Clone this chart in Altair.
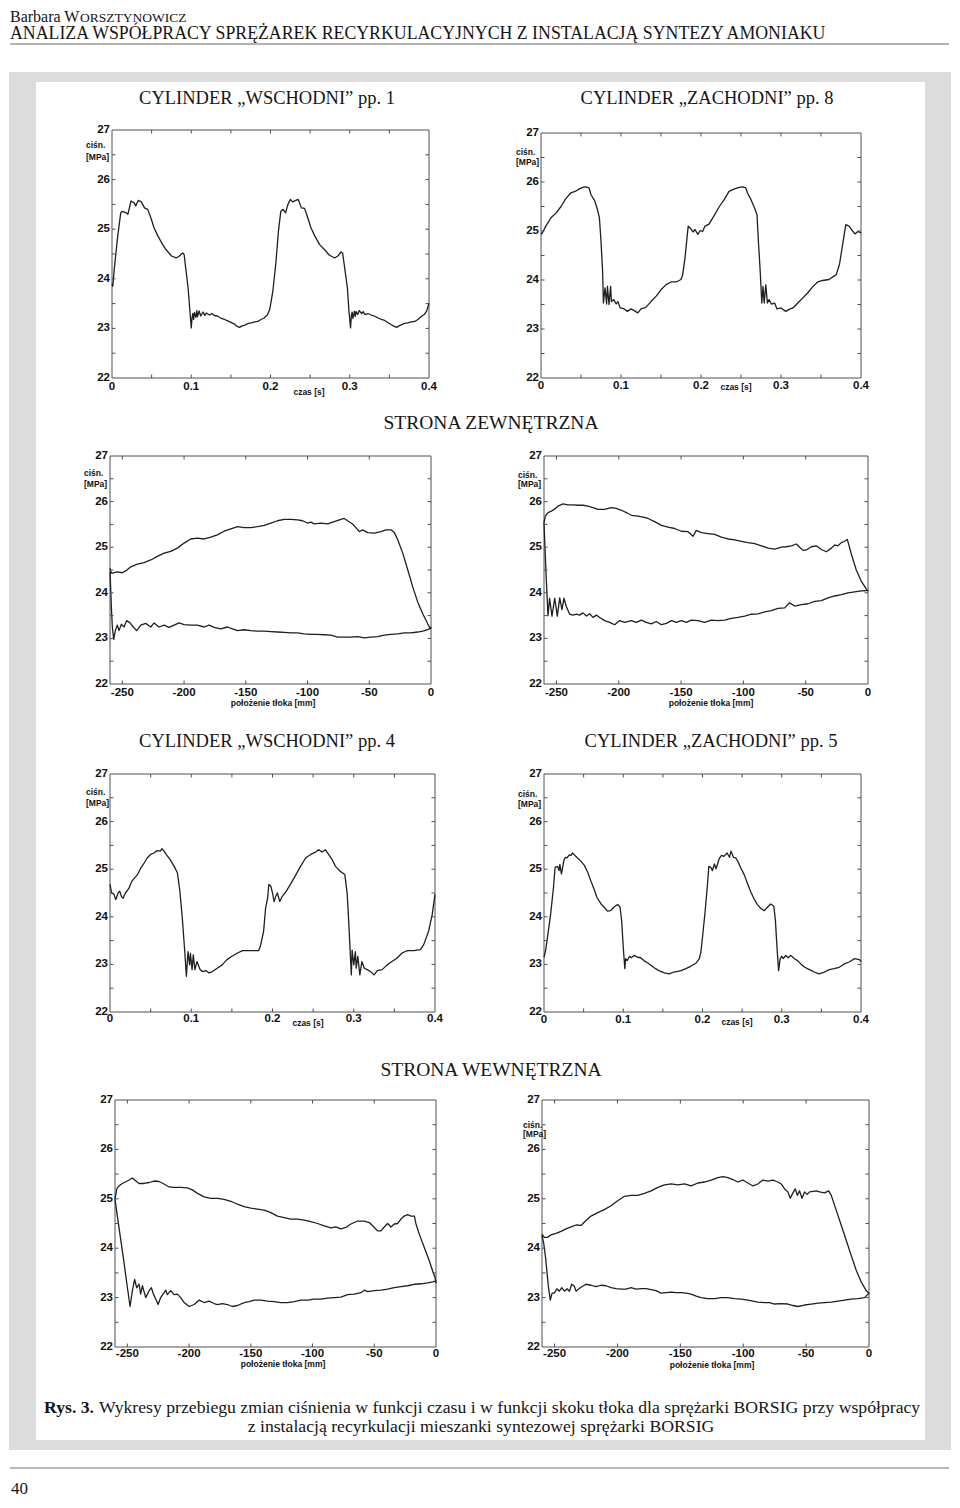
import altair as alt
import pandas as pd

SANS = "Liberation Sans"
SERIF = "Liberation Serif"
INK = "#1f1f1f"
FRAME = "#505050"
GREY = "#dcdcdc"

# ---------------- text content ----------------
AUTHOR = ["Barbara W", "ORSZTYNOWICZ"]
RUNNING_TITLE = "ANALIZA WSPÓŁPRACY SPRĘŻAREK RECYRKULACYJNYCH Z INSTALACJĄ SYNTEZY AMONIAKU"
PANEL_TITLES = ["CYLINDER \u201eWSCHODNI\u201d pp. 1", "CYLINDER \u201eZACHODNI\u201d pp. 8",
                "CYLINDER \u201eWSCHODNI\u201d pp. 4", "CYLINDER \u201eZACHODNI\u201d pp. 5"]
SIDE_TITLES = ["STRONA ZEWNĘTRZNA", "STRONA WEWNĘTRZNA"]
CAPTION_BOLD = "Rys. 3."
CAPTION_1 = ("Wykresy przebiegu zmian ciśnienia w funkcji czasu i w funkcji skoku tłoka "
             "dla sprężarki BORSIG przy współpracy")
CAPTION_2 = "z instalacją recyrkulacji mieszanki syntezowej sprężarki BORSIG"
PAGE_NO = "40"
Y_TITLE = ["ciśn.", "[MPa]"]
X_TITLES = {"time": "czas [s]", "pos": "położenie tłoka [mm]"}

# ---------------- axis ticks and labels ----------------
TIME_LABELS = [0, 0.1, 0.2, 0.3, 0.4]
TIME_LABEL_TEXT = ["0", "0.1", "0.2", "0.3", "0.4"]
TIME_TICKS = [0.05, 0.1, 0.15, 0.2, 0.25, 0.3, 0.35]
POS_LABELS = [-250, -200, -150, -100, -50, 0]
POS_LABEL_TEXT = ["-250", "-200", "-150", "-100", "-50", "0"]
POS_TICKS = [-250, -200, -150, -100, -50]
P_LABELS = [22, 23, 24, 25, 26, 27]
P_LABEL_TEXT = ["22", "23", "24", "25", "26", "27"]
P_TICKS = [22.5, 23, 23.5, 24, 24.5, 25, 25.5, 26, 26.5]

# ---------------- data: pressure vs time (t [s], p [MPa]) ----------------
WSCH_PP1 = [(0.000, 23.90), (0.001, 23.85), (0.003, 24.22), (0.007, 24.83), (0.011, 25.33), (0.013, 25.36),
            (0.018, 25.33), (0.020, 25.30), (0.022, 25.43), (0.024, 25.57), (0.028, 25.53), (0.030, 25.47),
            (0.033, 25.58), (0.037, 25.55), (0.041, 25.43), (0.045, 25.40), (0.049, 25.23), (0.053, 25.03),
            (0.058, 24.86), (0.064, 24.69), (0.068, 24.59), (0.075, 24.46), (0.081, 24.42), (0.085, 24.46),
            (0.089, 24.52), (0.091, 24.49), (0.093, 24.22), (0.096, 23.82), (0.099, 23.21), (0.100, 23.01),
            (0.101, 23.21), (0.102, 23.30), (0.103, 23.18), (0.104, 23.32), (0.106, 23.22), (0.107, 23.36),
            (0.108, 23.24), (0.110, 23.35), (0.112, 23.25), (0.115, 23.33), (0.117, 23.26), (0.119, 23.31),
            (0.123, 23.27), (0.126, 23.30), (0.129, 23.26), (0.133, 23.25), (0.138, 23.20), (0.142, 23.18),
            (0.146, 23.15), (0.150, 23.12), (0.155, 23.08), (0.158, 23.04), (0.161, 23.02), (0.164, 23.05),
            (0.167, 23.06), (0.172, 23.10), (0.176, 23.11), (0.180, 23.13), (0.184, 23.14), (0.188, 23.18),
            (0.192, 23.21), (0.196, 23.27), (0.199, 23.38), (0.203, 23.75), (0.207, 24.36), (0.210, 24.96),
            (0.213, 25.36), (0.216, 25.40), (0.219, 25.33), (0.222, 25.50), (0.225, 25.60), (0.228, 25.55),
            (0.232, 25.58), (0.235, 25.60), (0.239, 25.43), (0.243, 25.42), (0.247, 25.23), (0.251, 25.03),
            (0.256, 24.86), (0.262, 24.69), (0.268, 24.59), (0.274, 24.48), (0.281, 24.42), (0.285, 24.46),
            (0.289, 24.54), (0.291, 24.52), (0.293, 24.29), (0.297, 23.82), (0.299, 23.35), (0.301, 23.01),
            (0.302, 23.25), (0.303, 23.33), (0.304, 23.20), (0.306, 23.35), (0.307, 23.24), (0.308, 23.34),
            (0.310, 23.28), (0.312, 23.36), (0.315, 23.30), (0.317, 23.34), (0.319, 23.28), (0.323, 23.30),
            (0.327, 23.27), (0.331, 23.25), (0.336, 23.21), (0.340, 23.18), (0.344, 23.16), (0.348, 23.12),
            (0.352, 23.08), (0.356, 23.04), (0.359, 23.02), (0.362, 23.05), (0.365, 23.07), (0.369, 23.10),
            (0.373, 23.11), (0.378, 23.13), (0.382, 23.14), (0.386, 23.18), (0.390, 23.24), (0.394, 23.28),
            (0.397, 23.35), (0.400, 23.51)]

ZACH_PP8 = [(0.000, 24.96), (0.001, 24.94), (0.006, 25.10), (0.0125, 25.27), (0.019, 25.37), (0.025, 25.50),
            (0.031, 25.66), (0.0375, 25.78), (0.044, 25.82), (0.048, 25.86), (0.052, 25.89), (0.056, 25.90),
            (0.060, 25.88), (0.0625, 25.74), (0.067, 25.62), (0.070, 25.47), (0.073, 25.27), (0.075, 24.79),
            (0.077, 24.18), (0.078, 23.53), (0.080, 23.84), (0.082, 23.51), (0.083, 23.87), (0.085, 23.50),
            (0.087, 23.87), (0.088, 23.56), (0.091, 23.60), (0.094, 23.51), (0.096, 23.56), (0.099, 23.43),
            (0.104, 23.41), (0.108, 23.36), (0.1125, 23.41), (0.117, 23.37), (0.121, 23.33), (0.125, 23.41),
            (0.131, 23.44), (0.1375, 23.56), (0.144, 23.67), (0.150, 23.80), (0.156, 23.90), (0.1625, 23.96),
            (0.169, 23.96), (0.175, 24.01), (0.177, 24.10), (0.180, 24.45), (0.1825, 24.86), (0.184, 25.10),
            (0.187, 25.05), (0.190, 24.98), (0.1925, 25.03), (0.196, 24.93), (0.199, 25.01), (0.202, 24.99),
            (0.205, 25.10), (0.210, 25.14), (0.217, 25.33), (0.223, 25.50), (0.229, 25.64), (0.235, 25.81),
            (0.242, 25.86), (0.248, 25.89), (0.252, 25.90), (0.256, 25.88), (0.258, 25.78), (0.2625, 25.64),
            (0.267, 25.47), (0.270, 25.33), (0.272, 24.72), (0.274, 24.18), (0.276, 23.53), (0.2775, 23.87),
            (0.279, 23.53), (0.281, 23.90), (0.283, 23.53), (0.285, 23.60), (0.288, 23.51), (0.292, 23.53),
            (0.295, 23.41), (0.300, 23.43), (0.306, 23.36), (0.310, 23.40), (0.315, 23.43), (0.321, 23.53),
            (0.327, 23.63), (0.333, 23.73), (0.340, 23.87), (0.346, 23.96), (0.352, 23.99), (0.360, 24.01),
            (0.369, 24.11), (0.373, 24.31), (0.377, 24.72), (0.381, 25.13), (0.385, 25.10), (0.390, 24.99),
            (0.3925, 24.94), (0.396, 24.99), (0.400, 24.96)]

WSCH_PP4 = [(0.000, 24.68), (0.002, 24.50), (0.005, 24.47), (0.007, 24.36), (0.010, 24.50), (0.012, 24.54),
            (0.014, 24.43), (0.016, 24.39), (0.019, 24.50), (0.023, 24.59), (0.027, 24.75), (0.034, 24.89),
            (0.038, 25.03), (0.042, 25.13), (0.046, 25.24), (0.050, 25.31), (0.054, 25.34), (0.058, 25.39),
            (0.062, 25.38), (0.064, 25.43), (0.066, 25.39), (0.070, 25.29), (0.074, 25.20), (0.079, 25.06),
            (0.083, 24.92), (0.086, 24.54), (0.089, 23.97), (0.092, 23.27), (0.094, 22.75), (0.096, 23.27),
            (0.098, 22.99), (0.099, 23.23), (0.101, 22.89), (0.1025, 23.20), (0.1045, 22.89), (0.107, 23.06),
            (0.111, 22.89), (0.114, 22.85), (0.118, 22.87), (0.122, 22.82), (0.126, 22.85), (0.132, 22.92),
            (0.138, 22.99), (0.144, 23.10), (0.150, 23.17), (0.157, 23.24), (0.163, 23.29), (0.169, 23.29),
            (0.175, 23.29), (0.183, 23.29), (0.185, 23.38), (0.189, 23.69), (0.1915, 24.18), (0.194, 24.39),
            (0.1955, 24.68), (0.198, 24.64), (0.200, 24.50), (0.202, 24.32), (0.204, 24.43), (0.206, 24.50),
            (0.209, 24.32), (0.212, 24.43), (0.214, 24.47), (0.217, 24.54), (0.222, 24.68), (0.228, 24.86),
            (0.2345, 25.06), (0.241, 25.24), (0.247, 25.31), (0.253, 25.36), (0.257, 25.41), (0.261, 25.36),
            (0.265, 25.41), (0.269, 25.31), (0.2735, 25.20), (0.2775, 25.06), (0.283, 24.96), (0.289, 24.89),
            (0.292, 24.47), (0.294, 23.83), (0.297, 22.78), (0.298, 23.30), (0.300, 22.99), (0.302, 23.27),
            (0.303, 22.92), (0.305, 23.17), (0.3075, 22.78), (0.310, 23.06), (0.313, 22.92), (0.3165, 22.89),
            (0.3205, 22.85), (0.325, 22.78), (0.329, 22.87), (0.335, 22.89), (0.341, 22.99), (0.347, 23.06),
            (0.353, 23.13), (0.3595, 23.24), (0.366, 23.29), (0.374, 23.29), (0.382, 23.31), (0.386, 23.41),
            (0.392, 23.69), (0.3965, 24.04), (0.400, 24.47)]

ZACH_PP5 = [(0.000, 23.15), (0.002, 23.29), (0.005, 23.64), (0.0084, 24.06), (0.012, 24.62), (0.014, 25.04),
            (0.017, 25.06), (0.019, 24.97), (0.020, 25.10), (0.022, 24.90), (0.024, 25.08), (0.025, 25.18),
            (0.027, 25.25), (0.029, 25.24), (0.032, 25.30), (0.034, 25.29), (0.036, 25.34), (0.039, 25.29),
            (0.042, 25.24), (0.046, 25.18), (0.051, 25.08), (0.055, 24.94), (0.059, 24.76), (0.063, 24.59),
            (0.067, 24.40), (0.072, 24.27), (0.076, 24.20), (0.080, 24.12), (0.084, 24.13), (0.088, 24.20),
            (0.093, 24.26), (0.096, 24.20), (0.098, 23.92), (0.100, 23.36), (0.102, 22.91), (0.103, 23.12),
            (0.105, 23.08), (0.108, 23.17), (0.110, 23.14), (0.114, 23.19), (0.118, 23.15), (0.122, 23.14),
            (0.126, 23.08), (0.131, 23.03), (0.135, 22.98), (0.139, 22.93), (0.145, 22.87), (0.152, 22.82),
            (0.158, 22.80), (0.164, 22.84), (0.173, 22.87), (0.179, 22.91), (0.185, 22.96), (0.192, 23.03),
            (0.196, 23.12), (0.198, 23.26), (0.200, 23.57), (0.203, 24.06), (0.206, 24.62), (0.208, 25.06),
            (0.2105, 25.04), (0.2125, 24.97), (0.215, 25.11), (0.217, 25.01), (0.219, 25.11), (0.221, 25.22),
            (0.224, 25.29), (0.227, 25.27), (0.231, 25.34), (0.234, 25.25), (0.236, 25.38), (0.239, 25.25),
            (0.242, 25.24), (0.245, 25.15), (0.248, 25.04), (0.253, 24.87), (0.257, 24.69), (0.261, 24.52),
            (0.265, 24.38), (0.269, 24.26), (0.274, 24.17), (0.278, 24.13), (0.282, 24.20), (0.286, 24.27),
            (0.290, 24.22), (0.292, 23.92), (0.294, 23.36), (0.296, 22.87), (0.298, 23.12), (0.300, 23.17),
            (0.302, 23.12), (0.305, 23.19), (0.308, 23.14), (0.3115, 23.19), (0.316, 23.12), (0.320, 23.08),
            (0.324, 23.01), (0.329, 22.94), (0.335, 22.89), (0.341, 22.84), (0.347, 22.80), (0.354, 22.84),
            (0.360, 22.89), (0.366, 22.91), (0.3725, 22.94), (0.379, 23.01), (0.385, 23.05), (0.3915, 23.12),
            (0.398, 23.10), (0.400, 23.06)]

# ---------------- data: pressure vs piston position (x [mm], p [MPa]), loop order ----------------
ZEW_WSCH = [(-260, 24.54), (-258.9, 24.43), (-256.8, 24.44), (-254.1, 24.46), (-250, 24.44), (-247.3, 24.48),
            (-243.2, 24.57), (-237.8, 24.63), (-232.4, 24.66), (-227, 24.72), (-221.6, 24.80), (-216.2, 24.87),
            (-210.8, 24.91), (-205.4, 24.98), (-200, 25.09), (-194.6, 25.18), (-189.2, 25.20), (-183.8, 25.18),
            (-178.4, 25.22), (-173, 25.27), (-167.6, 25.35), (-162.1, 25.40), (-156.7, 25.45), (-151.3, 25.43),
            (-145.9, 25.43), (-140.5, 25.45), (-135.1, 25.48), (-129.7, 25.53), (-124.3, 25.58), (-118.9, 25.61),
            (-113.5, 25.61), (-108.1, 25.60), (-104, 25.58), (-100, 25.53), (-97.3, 25.55), (-94.6, 25.51),
            (-89.2, 25.53), (-83.8, 25.51), (-78.4, 25.56), (-73, 25.61), (-70.3, 25.63), (-67.6, 25.58),
            (-63.5, 25.51), (-60.8, 25.43), (-58.1, 25.34), (-55.4, 25.38), (-51.3, 25.32), (-45.9, 25.31),
            (-40.5, 25.34), (-36.5, 25.38), (-32.4, 25.38), (-29.7, 25.32), (-27, 25.17), (-22.9, 24.87),
            (-18.9, 24.51), (-14.8, 24.13), (-10.8, 23.80), (-6.7, 23.54), (-2.7, 23.32), (-0.5, 23.21),
            (0, 23.24), (-2.7, 23.19), (-6.7, 23.16), (-10.8, 23.14), (-16.2, 23.12), (-21.6, 23.12),
            (-27, 23.10), (-32.4, 23.09), (-37.8, 23.07), (-43.2, 23.04), (-48.6, 23.03), (-54, 23.01),
            (-59.4, 23.04), (-64.8, 23.03), (-70.3, 23.03), (-75.7, 23.03), (-81.1, 23.07), (-86.5, 23.08),
            (-91.9, 23.09), (-97.3, 23.09), (-102.7, 23.10), (-108.1, 23.12), (-113.5, 23.12), (-118.9, 23.13),
            (-124.3, 23.14), (-129.7, 23.15), (-135.1, 23.16), (-140.5, 23.16), (-145.9, 23.17), (-151.3, 23.19),
            (-156.7, 23.17), (-160.8, 23.21), (-164.9, 23.25), (-170.3, 23.21), (-175.7, 23.24), (-179.7, 23.29),
            (-183.8, 23.25), (-189.2, 23.29), (-194.6, 23.29), (-200, 23.30), (-204, 23.34), (-208.1, 23.29),
            (-212.2, 23.24), (-216.2, 23.29), (-220.3, 23.25), (-224.3, 23.34), (-227, 23.25), (-231.1, 23.33),
            (-235.1, 23.29), (-238.4, 23.17), (-241.1, 23.25), (-243.8, 23.34), (-246.5, 23.39), (-248.6, 23.25),
            (-250.8, 23.31), (-252.7, 23.17), (-254.1, 23.29), (-255.7, 23.17), (-257, 22.98), (-258.1, 23.25),
            (-258.9, 23.69), (-259.5, 24.14), (-260, 24.47)]

ZEW_ZACH = [(-260, 25.54), (-258.9, 25.68), (-256.8, 25.76), (-254.1, 25.79), (-251.4, 25.84), (-248.8, 25.90),
            (-244.8, 25.95), (-240.7, 25.93), (-236.7, 25.93), (-232.7, 25.92), (-228.7, 25.92), (-224.7, 25.90),
            (-220.7, 25.87), (-216.7, 25.83), (-211.3, 25.83), (-206, 25.87), (-202, 25.85), (-197.9, 25.81),
            (-193.9, 25.76), (-189.9, 25.70), (-184.6, 25.68), (-180.6, 25.66), (-176.5, 25.63), (-171.2, 25.56),
            (-165.8, 25.48), (-160.5, 25.44), (-155.1, 25.41), (-149.8, 25.35), (-144.4, 25.34), (-140.4, 25.24),
            (-137.8, 25.37), (-133.7, 25.32), (-128.4, 25.30), (-123, 25.28), (-117.7, 25.22), (-112.3, 25.18),
            (-107, 25.16), (-101.6, 25.13), (-96.3, 25.10), (-90.9, 25.08), (-85.6, 25.03), (-80.2, 24.98),
            (-74.9, 24.96), (-69.5, 25.00), (-65.5, 25.01), (-61.5, 25.03), (-57.5, 25.07), (-54.8, 25.00),
            (-52.2, 24.93), (-49.5, 24.94), (-45.5, 25.01), (-41.5, 25.03), (-37.4, 24.95), (-33.4, 24.90),
            (-29.4, 24.98), (-26.7, 25.05), (-24.1, 25.03), (-21.4, 25.10), (-18.7, 25.13), (-16.6, 25.17),
            (-13.4, 24.85), (-9.4, 24.50), (-5.3, 24.25), (-0.5, 24.05),
            (0, 24.05), (-5.3, 24.04), (-10.7, 24.02), (-16, 24.00), (-21.4, 23.96), (-26.7, 23.93),
            (-32.1, 23.89), (-37.4, 23.83), (-42.8, 23.81), (-48.1, 23.76), (-53.5, 23.74), (-58.8, 23.71),
            (-62.9, 23.78), (-66.9, 23.67), (-72.2, 23.66), (-77.6, 23.61), (-82.9, 23.58), (-88.3, 23.54),
            (-93.6, 23.53), (-99, 23.49), (-104.3, 23.46), (-109.7, 23.44), (-115, 23.40), (-120.4, 23.39),
            (-125.7, 23.40), (-131.1, 23.35), (-136.4, 23.39), (-141.8, 23.40), (-145.8, 23.35), (-149.8, 23.39),
            (-153.8, 23.35), (-157.8, 23.39), (-161.8, 23.33), (-165.8, 23.30), (-169.9, 23.37), (-173.9, 23.32),
            (-177.9, 23.35), (-181.9, 23.40), (-185.9, 23.35), (-189.9, 23.39), (-195.3, 23.35), (-199.3, 23.39),
            (-203.3, 23.30), (-207.3, 23.35), (-211.3, 23.39), (-215.3, 23.46), (-218, 23.51), (-220.7, 23.46),
            (-223.4, 23.54), (-226, 23.49), (-228.7, 23.56), (-231.4, 23.51), (-234, 23.53), (-236.7, 23.51),
            (-239.4, 23.53), (-242.1, 23.70), (-244, 23.88), (-245.6, 23.63), (-247.4, 23.89), (-249.3, 23.49),
            (-251.4, 23.88), (-253.6, 23.49), (-255.5, 23.88), (-256.8, 23.50), (-258.5, 24.50), (-260, 25.54)]

WEW_WSCH = [(-260, 24.99), (-258.6, 25.20), (-256.8, 25.26), (-254.1, 25.31), (-250, 25.36), (-245.9, 25.42),
            (-244.1, 25.38), (-240.5, 25.31), (-236.5, 25.31), (-232.4, 25.33), (-228.4, 25.36), (-224.3, 25.35),
            (-220.3, 25.30), (-216.2, 25.24), (-212.2, 25.23), (-206.8, 25.23), (-201.3, 25.22), (-197.3, 25.18),
            (-193.2, 25.11), (-187.8, 25.04), (-182.4, 25.01), (-177, 25.01), (-171.6, 24.99), (-166.2, 24.95),
            (-160.8, 24.89), (-155.4, 24.84), (-150, 24.81), (-144.6, 24.79), (-139.2, 24.77), (-133.8, 24.72),
            (-128.4, 24.65), (-123, 24.62), (-117.6, 24.59), (-112.1, 24.59), (-106.7, 24.57), (-101.3, 24.54),
            (-95.9, 24.50), (-90.5, 24.45), (-85.1, 24.41), (-81.1, 24.43), (-77, 24.39), (-73, 24.42),
            (-68.9, 24.49), (-63.5, 24.55), (-58.1, 24.55), (-54, 24.52), (-50, 24.42), (-47.3, 24.35),
            (-44.6, 24.35), (-41.9, 24.43), (-39.2, 24.50), (-36.5, 24.43), (-33.8, 24.49), (-31.1, 24.50),
            (-28.4, 24.59), (-25.7, 24.65), (-23, 24.68), (-20.3, 24.65), (-17.5, 24.65), (-16.2, 24.49),
            (-13.5, 24.28), (-9.4, 24.01), (-5.4, 23.74), (-2.7, 23.54), (-0.8, 23.41), (0, 23.30),
            (0, 23.34), (-2.7, 23.32), (-6.7, 23.30), (-12.1, 23.28), (-17.5, 23.27), (-23, 23.24),
            (-28.4, 23.22), (-33.8, 23.20), (-39.2, 23.17), (-44.6, 23.15), (-50, 23.14), (-55.4, 23.12),
            (-58.1, 23.15), (-60.8, 23.10), (-66.2, 23.07), (-71.6, 23.06), (-77, 23.01), (-82.4, 23.00),
            (-87.8, 22.99), (-93.2, 22.97), (-98.6, 22.97), (-104, 22.95), (-109.4, 22.95), (-114.8, 22.92),
            (-120.3, 22.90), (-125.7, 22.90), (-131.1, 22.92), (-136.5, 22.93), (-141.9, 22.95), (-147.3, 22.95),
            (-151.3, 22.92), (-155.4, 22.90), (-160.8, 22.84), (-164.9, 22.82), (-168.9, 22.86), (-173, 22.88),
            (-177, 22.86), (-179.7, 22.88), (-183.8, 22.93), (-187.8, 22.90), (-191.9, 22.95), (-195.9, 22.86),
            (-200, 22.82), (-204, 22.90), (-206.8, 23.00), (-209.5, 23.07), (-212.2, 23.06), (-214.9, 23.14),
            (-217.6, 23.06), (-218.9, 23.15), (-220.8, 23.08), (-223, 23.00), (-225.1, 22.86), (-227, 22.97),
            (-228.9, 23.07), (-230.5, 23.20), (-232.4, 23.14), (-235.1, 23.00), (-237.8, 23.24), (-239.2, 23.07),
            (-240.5, 23.27), (-242.4, 23.20), (-244.1, 23.37), (-245.9, 23.14), (-247.8, 22.82), (-250, 23.21),
            (-253.2, 23.80), (-256.8, 24.42), (-260, 24.99)]

WEW_ZACH = [(-260, 24.28), (-258.1, 24.22), (-255.5, 24.22), (-252.8, 24.27), (-248.9, 24.30), (-244.9, 24.34),
            (-240.9, 24.39), (-236.9, 24.43), (-232.9, 24.47), (-229, 24.46), (-225, 24.56), (-221, 24.65),
            (-215.7, 24.72), (-210.4, 24.78), (-205.1, 24.86), (-199.8, 24.96), (-194.5, 25.05), (-189.2, 25.07),
            (-183.9, 25.07), (-178.6, 25.11), (-173.2, 25.16), (-167.9, 25.23), (-162.6, 25.28), (-157.3, 25.30),
            (-152, 25.28), (-146.7, 25.30), (-141.4, 25.26), (-136.1, 25.32), (-130.8, 25.34), (-125.5, 25.38),
            (-120.2, 25.43), (-116.2, 25.45), (-112.2, 25.43), (-108.2, 25.39), (-104.3, 25.34), (-100.3, 25.38),
            (-96.3, 25.32), (-92.3, 25.26), (-88.4, 25.30), (-84.4, 25.38), (-80.4, 25.36), (-76.4, 25.38),
            (-72.4, 25.34), (-69.8, 25.30), (-67.1, 25.20), (-64.5, 25.14), (-62.6, 25.01), (-60.5, 25.12),
            (-58.6, 25.20), (-57, 25.07), (-55.2, 25.16), (-53.3, 25.01), (-51.2, 25.14), (-49.1, 25.09),
            (-47.2, 25.14), (-44.6, 25.15), (-41.9, 25.16), (-39.3, 25.14), (-35.3, 25.12), (-32.1, 25.16),
            (-30, 25.07), (-26, 24.76), (-22, 24.46), (-18, 24.15), (-14.1, 23.85), (-10.1, 23.55),
            (-6.1, 23.31), (-2.2, 23.14), (0, 23.09),
            (-3.5, 23.00), (-8.8, 22.98), (-14.1, 22.97), (-19.4, 22.95), (-24.7, 22.93), (-30, 22.91),
            (-35.3, 22.90), (-40.6, 22.89), (-45.9, 22.87), (-51.2, 22.85), (-56.5, 22.82), (-60.5, 22.84),
            (-64.5, 22.87), (-69.8, 22.88), (-75.1, 22.87), (-79.1, 22.90), (-83, 22.90), (-88.4, 22.91),
            (-92.3, 22.93), (-96.3, 22.95), (-101.6, 22.97), (-106.9, 22.98), (-112.2, 23.00), (-117.5, 23.00),
            (-122.8, 22.98), (-128.1, 22.98), (-133.5, 23.00), (-137.4, 23.03), (-141.4, 23.07), (-145.4, 23.09),
            (-149.4, 23.10), (-153.3, 23.10), (-157.3, 23.11), (-161.3, 23.10), (-165.3, 23.09), (-169.3, 23.14),
            (-173.2, 23.16), (-177.2, 23.18), (-181.2, 23.18), (-185.2, 23.17), (-189.2, 23.20), (-193.1, 23.17),
            (-197.1, 23.17), (-201.1, 23.18), (-205.1, 23.20), (-209.1, 23.24), (-213, 23.25), (-217, 23.22),
            (-221, 23.25), (-225, 23.27), (-228.4, 23.22), (-231.1, 23.17), (-232.9, 23.13), (-234.3, 23.23),
            (-236.4, 23.27), (-238.2, 23.13), (-240.1, 23.18), (-242.2, 23.13), (-244.3, 23.20), (-246.2, 23.13),
            (-248.1, 23.18), (-250.2, 23.09), (-252, 23.09), (-253.4, 22.95), (-255, 23.24), (-256, 23.51),
            (-257.3, 23.84), (-258.7, 24.11), (-260, 24.26)]

ONE = pd.DataFrame({"a": [0]})

# grid cells: two columns, four rows (chart pixels)
CELL_W = [432, 500]
CELL_H = [392, 320, 330, 318]


def label(text, x, y, size, align="left", weight="normal"):
    return alt.Chart(ONE).mark_text(text=text, font=SERIF, fontSize=size, align=align,
                                    baseline="alphabetic", fontWeight=weight, color="#151515").encode(
        x=alt.value(x), y=alt.value(y))


def page_layers():
    return [
        alt.Chart(ONE).mark_rect(color=GREY).encode(
            x=alt.value(0), x2=alt.value(942), y=alt.value(63), y2=alt.value(1441)),
        alt.Chart(ONE).mark_rect(color="white").encode(
            x=alt.value(27), x2=alt.value(916), y=alt.value(73), y2=alt.value(1431)),
        alt.Chart(ONE).mark_rule(color="#9a9a9a", strokeWidth=1.5).encode(
            x=alt.value(1), x2=alt.value(940), y=alt.value(35)),
        alt.Chart(ONE).mark_rule(color="#a0a0a0", strokeWidth=1.5).encode(
            x=alt.value(1), x2=alt.value(940), y=alt.value(1459)),
        label(AUTHOR[0], 1, 13, 16),
        label(AUTHOR[1], 71, 13, 13.5),
        label(RUNNING_TITLE, 1, 30, 17.8),
        label(PANEL_TITLES[0], 258, 95, 18.5, "center"),
        label(PANEL_TITLES[1], 698, 95, 18.5, "center"),
        label(SIDE_TITLES[0], 482, 420, 19.5, "center"),
        label(PANEL_TITLES[2], 258, 738, 18.5, "center"),
        label(PANEL_TITLES[3], 702, 738, 18.5, "center"),
        label(SIDE_TITLES[1], 482, 1067, 19.5, "center"),
        label(CAPTION_BOLD, 35, 1404, 17.7, "left", "bold"),
        label(CAPTION_1, 90, 1404, 17.7),
        label(CAPTION_2, 472, 1423, 17.7, "center"),
        label(PAGE_NO, 2, 1485, 17),
    ]


def panel(pairs, kind, cell, box, ylab, xtitle, xlab_dy, extra=None):
    cw, ch = cell
    ox, oy, w, h = box
    df = pd.DataFrame(pairs, columns=["x", "p"])
    df["i"] = list(range(len(df)))
    if kind == "time":
        xdom, xlabels, xtext, xticks = [0, 0.4], TIME_LABELS, TIME_LABEL_TEXT, TIME_TICKS
    else:
        xdom, xlabels, xtext, xticks = [-260, 0], POS_LABELS, POS_LABEL_TEXT, POS_TICKS
    xs = alt.Scale(domain=xdom, range=[ox, ox + w], nice=False, zero=False)
    ys = alt.Scale(domain=[22, 27], range=[oy + h, oy], nice=False, zero=False)
    frame = alt.Chart(ONE).mark_rect(fillOpacity=0, stroke=FRAME, strokeWidth=1).encode(
        x=alt.value(ox), x2=alt.value(ox + w), y=alt.value(oy), y2=alt.value(oy + h))
    line = alt.Chart(df).mark_line(color=INK, strokeWidth=1.3, strokeJoin="round").encode(
        x=alt.X("x:Q", scale=xs, axis=None),
        y=alt.Y("p:Q", scale=ys, axis=None),
        order="i:Q")
    xt = pd.DataFrame({"v": xticks})
    yt = pd.DataFrame({"v": P_TICKS})
    T = 3.5
    rule = dict(color=FRAME, strokeWidth=1)
    tb = alt.Chart(xt).mark_rule(**rule).encode(
        x=alt.X("v:Q", scale=xs, axis=None), y=alt.value(oy + h - T), y2=alt.value(oy + h))
    tt = alt.Chart(xt).mark_rule(**rule).encode(
        x=alt.X("v:Q", scale=xs, axis=None), y=alt.value(oy), y2=alt.value(oy + T))
    tl = alt.Chart(yt).mark_rule(**rule).encode(
        y=alt.Y("v:Q", scale=ys, axis=None), x=alt.value(ox), x2=alt.value(ox + T))
    tr = alt.Chart(yt).mark_rule(**rule).encode(
        y=alt.Y("v:Q", scale=ys, axis=None), x=alt.value(ox + w - T), x2=alt.value(ox + w))
    num = dict(font=SANS, fontSize=11.5, fontWeight="bold", color="#111111", baseline="middle")
    xl = alt.Chart(pd.DataFrame({"v": xlabels, "t": xtext})).mark_text(align="center", **num).encode(
        x=alt.X("v:Q", scale=xs, axis=None), y=alt.value(oy + h + xlab_dy), text="t:N")
    yl = alt.Chart(pd.DataFrame({"v": P_LABELS, "t": P_LABEL_TEXT})).mark_text(align="right", **num).encode(
        y=alt.Y("v:Q", scale=ys, axis=None), x=alt.value(ox - 2), text="t:N")
    layers = list(extra or []) + [frame, line, tb, tt, tl, tr, xl, yl]
    txt = dict(font=SANS, fontSize=8.5, fontWeight="bold", color="#111111", baseline="middle")
    if ylab:
        lx, y1, y2 = ylab
        layers.append(alt.Chart(ONE).mark_text(text=Y_TITLE[0], align="left", **txt).encode(
            x=alt.value(ox + lx), y=alt.value(oy + y1)))
        layers.append(alt.Chart(ONE).mark_text(text=Y_TITLE[1], align="left", **txt).encode(
            x=alt.value(ox + lx), y=alt.value(oy + y2)))
    tx, ty = xtitle
    layers.append(alt.Chart(ONE).mark_text(text=X_TITLES[kind], align="center", **txt).encode(
        x=alt.value(ox + tx), y=alt.value(oy + h + ty)))
    return alt.layer(*layers).properties(width=cw, height=ch)


p1 = panel(WSCH_PP1, "time", (CELL_W[0], CELL_H[0]), (103, 121, 317, 248), (-26, 15, 27), (197, 14), 9,
           extra=page_layers())
p2 = panel(ZACH_PP8, "time", (CELL_W[1], CELL_H[0]), (100, 124, 320, 245), (-25, 19, 29), (195, 9), 8)
p3 = panel(ZEW_WSCH, "pos", (CELL_W[0], CELL_H[1]), (101, 55, 321, 228), (-26, 17, 28), (163, 19), 9)
p4 = panel(ZEW_ZACH, "pos", (CELL_W[1], CELL_H[1]), (103, 55, 324, 228), (-26, 19, 28), (167, 19), 8.5)
p5 = panel(WSCH_PP4, "time", (CELL_W[0], CELL_H[2]), (101, 53, 325, 238), (-24, 18, 29), (198, 11), 7)
p6 = panel(ZACH_PP5, "time", (CELL_W[1], CELL_H[2]), (103, 53, 317, 238), (-26, 20, 30), (193, 10), 8)
p7 = panel(WEW_WSCH, "pos", (CELL_W[0], CELL_H[3]), (106, 49, 321, 247), None, (168, 17), 6.5)
p8 = panel(WEW_ZACH, "pos", (CELL_W[1], CELL_H[3]), (101, 49, 327, 247), (-19, 25, 34), (170, 18), 7)

chart = alt.ConcatChart(concat=[p1, p2, p3, p4, p5, p6, p7, p8], columns=2, spacing=0,
                        bounds="flush", align="each", padding=0,
                        background="white").configure_view(stroke="transparent")

chart.save("out.html", embed_options={"renderer": "svg", "actions": False})
